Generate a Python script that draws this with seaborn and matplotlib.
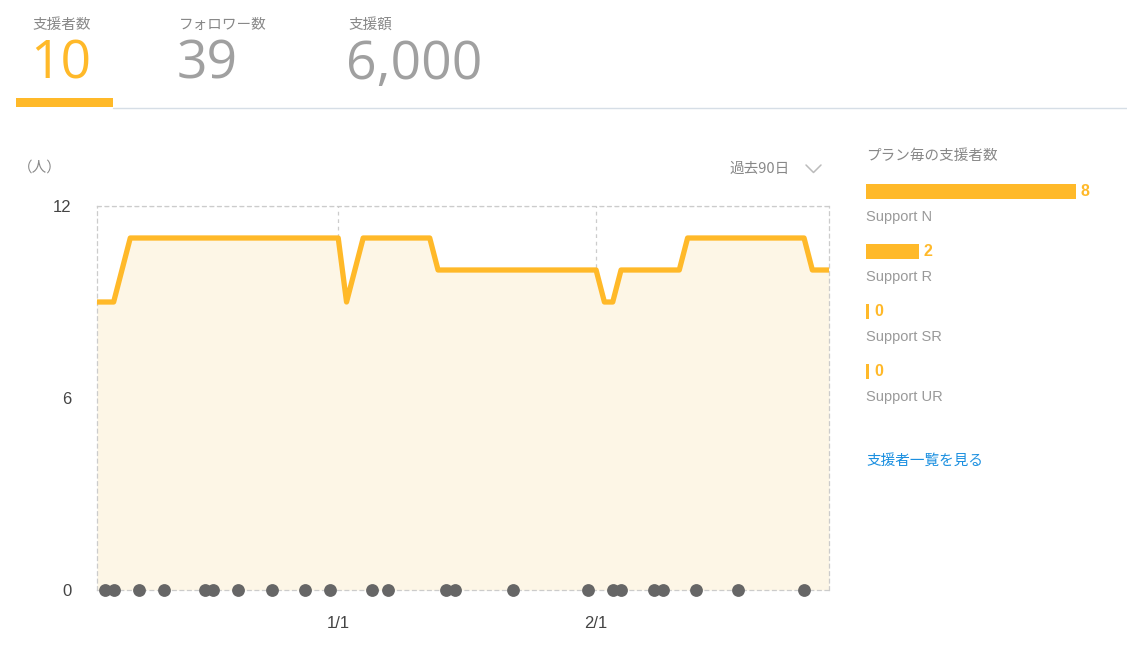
import numpy as np
import pandas as pd
import matplotlib
matplotlib.use("Agg")
import matplotlib.pyplot as plt
import seaborn as sns
from matplotlib.patches import Rectangle
from matplotlib.lines import Line2D

# ---------------- data ----------------
start_date = "2023-12-03"
end_date = "2024-02-29"
supporters = ([9, 9, 9, 10] + [11] * 26 + [9, 10] + [11] * 9 + [10] * 20 +
              [9, 9] + [10] * 8 + [11] * 15 + [10] * 3)
event_dates = ["2023-12-04", "2023-12-05", "2023-12-08", "2023-12-11", "2023-12-16",
               "2023-12-17", "2023-12-20", "2023-12-24", "2023-12-28", "2023-12-31",
               "2024-01-05", "2024-01-07", "2024-01-14", "2024-01-15", "2024-01-22",
               "2024-01-31", "2024-02-03", "2024-02-04", "2024-02-08", "2024-02-09",
               "2024-02-13", "2024-02-18", "2024-02-26"]
xtick_dates = ["2024-01-01", "2024-02-01"]
xtick_labels = ["1/1", "2/1"]
ytick_values = [0, 6, 12]

tab_titles = ["支援者数", "フォロワー数", "支援額"]
tab_values = ["10", "39", "6,000"]

plans = ["Support N", "Support R", "Support SR", "Support UR"]
plan_counts = [8, 2, 0, 0]

# ---------------- style ----------------
ORANGE = "#ffb929"
FILL = "#fdf6e6"
GRAY_TXT = "#999999"
DOT = "#666666"
GRID = "#cccccc"
LINK = "#1a8fe0"

sns.set_theme(style="white")
plt.rcParams["font.family"] = ["Noto Sans CJK JP", "DejaVu Sans"]

W, H = 1127, 660
fig = plt.figure(figsize=(W / 100, H / 100), dpi=100)
fig.patch.set_facecolor("white")


def fx(px):
    return px / W


def fy(py):
    return 1 - py / H


# ---------------- header tabs ----------------
tab_x = [32, 179, 348]
for i, (t, v, x) in enumerate(zip(tab_titles, tab_values, tab_x)):
    fig.text(fx(x), fy(25), t, fontsize=10.5, color="#888888", va="center", ha="left")
    fig.text(fx(x - 2), fy(65), v, fontsize=38.5, color=ORANGE if i == 0 else "#a0a0a0",
             va="center", ha="left", family=["Open Sans", "DejaVu Sans"])

fig.add_artist(Rectangle((fx(16), fy(107)), fx(113) - fx(16), fy(98) - fy(107),
                         transform=fig.transFigure, color=ORANGE, lw=0))
fig.add_artist(Line2D([fx(113), fx(1127)], [fy(107.5), fy(107.5)],
                      transform=fig.transFigure, color="#d6dee6", lw=1))

fig.text(fx(18), fy(168), "（人）", fontsize=10.5, color="#888888", va="center", ha="left")
fig.text(fx(790), fy(169), "過去90日", fontsize=10.5, color="#888888", va="center", ha="right")
# dropdown chevron icon
fig.add_artist(Line2D([fx(806), fx(813.5), fx(821)], [fy(165), fy(172.5), fy(165)],
                      transform=fig.transFigure, color="#bbbbbb", lw=1.1))

# ---------------- main chart ----------------
dates = pd.date_range(start_date, end_date, freq="D")
df = pd.DataFrame({"date": dates, "supporters": supporters})
ev = pd.DataFrame({"date": pd.to_datetime(event_dates)})
ev["y"] = np.zeros(len(ev))

ax = fig.add_axes([fx(97), fy(590), fx(829) - fx(97), fy(206) - fy(590)])
ax.set_facecolor("white")
ax.fill_between(df["date"], df["supporters"], 0, color=FILL, lw=0, zorder=1)
sns.lineplot(data=df, x="date", y="supporters", ax=ax, color=ORANGE, lw=3.8, zorder=3)
ax.lines[-1].set_solid_joinstyle("round")
ax.lines[-1].set_solid_capstyle("butt")
sns.scatterplot(data=ev, x="date", y="y", ax=ax, color=DOT, s=85, linewidth=0,
                zorder=5)
for coll in ax.collections:
    coll.set_clip_on(False)

ax.set_xlim(dates[0], dates[-1])
ax.set_ylim(0, 12)
ax.set_yticks(ytick_values)
ax.set_yticklabels([str(v) for v in ytick_values])
ax.set_xticks(pd.to_datetime(xtick_dates))
ax.set_xticklabels(xtick_labels)
ax.tick_params(axis="both", length=0, labelsize=12, colors="#444444")
ax.tick_params(axis="y", pad=18.5)
ax.tick_params(axis="x", pad=19)
for lab in ax.get_xticklabels() + ax.get_yticklabels():
    lab.set_family(["Liberation Sans", "DejaVu Sans"])
ax.grid(True, color=GRID, linestyle=(0, (3, 3)), lw=0.9, zorder=0)
ax.set_axisbelow(True)
for s in ax.spines.values():
    s.set_visible(True)
    s.set_color(GRID)
    s.set_linestyle((0, (3, 3)))
    s.set_linewidth(0.9)
ax.set_xlabel("")
ax.set_ylabel("")

# ---------------- right panel ----------------
fig.text(fx(866), fy(156), "プラン毎の支援者数", fontsize=10.5, color="#888888",
         va="center", ha="left")

bx = fig.add_axes([fx(866), fy(401), fx(1127) - fx(866), fy(161) - fy(401)])
bx.set_facecolor("none")
display = np.maximum(np.array(plan_counts, dtype=float), 0.12)
sns.barplot(x=display, y=plans, orient="h", ax=bx, color=ORANGE, width=0.25,
            saturation=1, linewidth=0)
bx.set_xlim(0, 261 / 210 * 8)
bx.set_ylim(3.5, -0.5)
bx.bar_label(bx.containers[0], labels=[str(v) for v in plan_counts], padding=3.5,
             color=ORANGE, fontsize=11.5, fontweight="bold",
             family=["Liberation Sans", "DejaVu Sans"])
for i, p in enumerate(plans):
    bx.text(0, i + 0.44, p, fontsize=10.5, color=GRAY_TXT, va="center", ha="left",
            family=["Liberation Sans", "DejaVu Sans"])
bx.axis("off")

fig.text(fx(866), fy(461), "支援者一覧を見る", fontsize=10.5, color=LINK,
         va="center", ha="left")

fig.savefig("out.png", dpi=100, facecolor="white")
